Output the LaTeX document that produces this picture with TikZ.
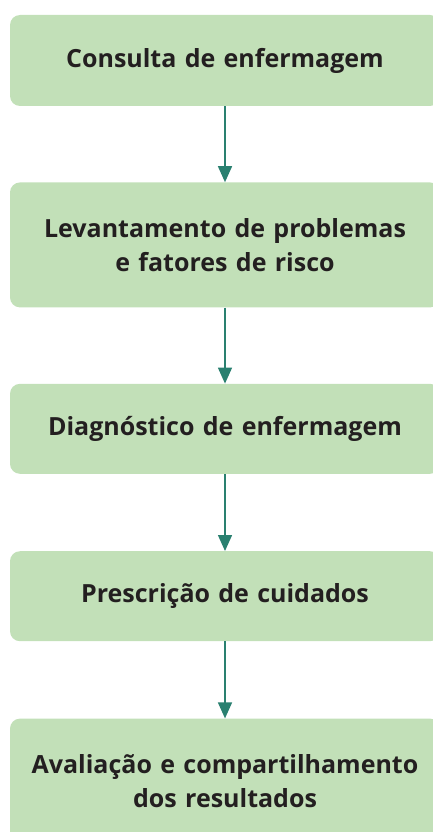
\documentclass[tikz,border=0pt]{standalone}
\usepackage{fontspec}
\setmainfont{Open Sans}
\usetikzlibrary{positioning}
\usetikzlibrary{arrows.meta}
\definecolor{boxgreen}{HTML}{C2E0B8}
\definecolor{arrowteal}{HTML}{2A8070}
\definecolor{textdark}{HTML}{231F20}
\tikzset{%
  b/.style = {rectangle,fill=boxgreen,rounded corners=10pt,
        minimum width=430pt,text width=420pt,align=center,
        text=textdark,font=\bfseries\fontsize{25}{33.5}\selectfont},
  flowarrow/.style = {-{Triangle[width=14pt,length=16pt]},
        line width=1.5pt,draw=arrowteal}
}

\begin{document}
\begin{tikzpicture}[node distance=76pt]
   \useasboundingbox (0,0) rectangle (433pt,-832pt);
   \clip (0,0) rectangle (433pt,-832pt);
   \node[b,minimum height=91pt] (consulta) at (225pt,-60.5pt) {Consulta de enfermagem};
   \node[b,minimum height=125pt] (levantamento) [below=of consulta]
        {Levantamento de problemas\\e fatores de risco};
   \node[b,minimum height=90pt] (diagnostico) [below=of levantamento]
        {Diagnóstico de enfermagem};
   \node[b,minimum height=90pt] (prescricao) [below=77pt of diagnostico]
        {Prescrição de cuidados};
   \node[b,minimum height=125pt] (avaliacao) [below=77pt of prescricao]
        {Avaliação e compartilhamento\\dos resultados};

   \draw[flowarrow] (consulta) -- (levantamento);
   \draw[flowarrow] (levantamento) -- (diagnostico);
   \draw[flowarrow] (diagnostico) -- (prescricao);
   \draw[flowarrow] (prescricao) -- (avaliacao);
\end{tikzpicture}
\end{document}
